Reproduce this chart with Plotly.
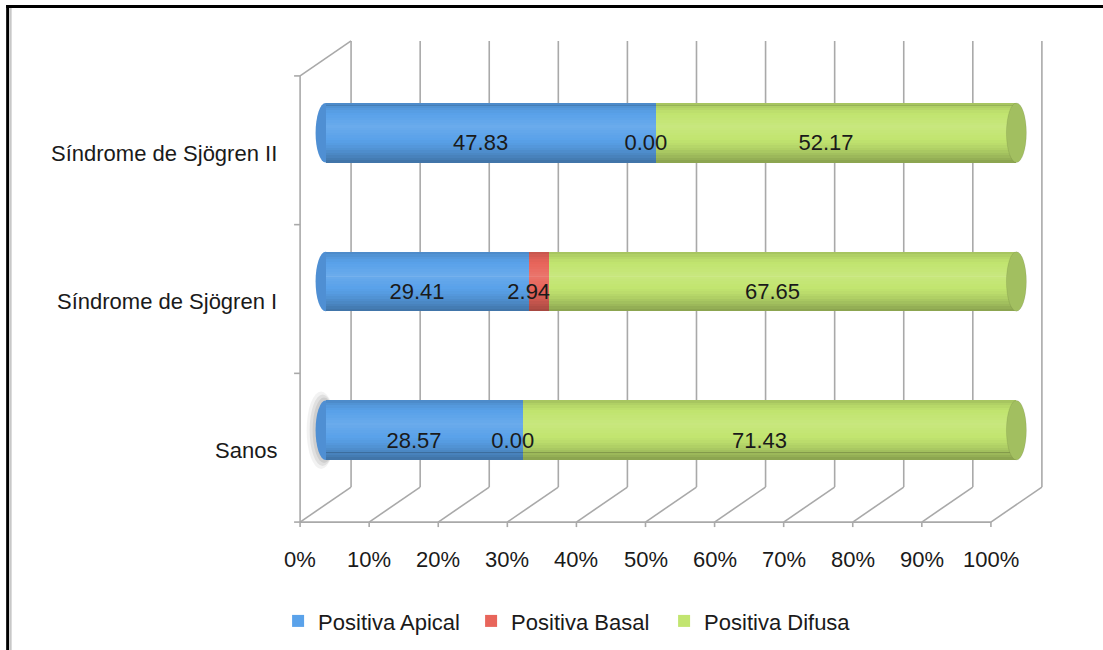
import plotly.graph_objects as go

# ---------------- data ----------------
categories = ["Sanos", "Síndrome de Sjögren I", "Síndrome de Sjögren II"]
series_names = ["Positiva Apical", "Positiva Basal", "Positiva Difusa"]
apical = [28.57, 29.41, 47.83]
basal = [0.00, 2.94, 0.00]
difusa = [71.43, 67.65, 52.17]
x_ticks = [0, 10, 20, 30, 40, 50, 60, 70, 80, 90, 100]
x_tick_labels = ["0%", "10%", "20%", "30%", "40%", "50%", "60%", "70%", "80%", "90%", "100%"]

series_values = [apical, basal, difusa]
colors = ["#5aa2ea", "#e8655b", "#c2e570"]
cap_colors = ["#4f8fd3", "#d0564d", "#a2bf60"]

# ---------------- geometry (pixel layout of the oblique 3D frame) ----------------
W_FIG, H_FIG = 1103, 650
PX_X0, PXU = 300.0, 6.91      # front-plane 0% pixel, pixels per percent
PY0, PYU = 522.0, 148.67      # front floor pixel, pixels per category slot
DX = 51 / PXU                 # depth offset (x units)
DY = 35 / PYU                 # depth offset (y units)
XR = [-4.5, 110]
YR = [-0.45, 3.45]
ml = PX_X0 + XR[0] * PXU
pw = (XR[1] - XR[0]) * PXU
mr = W_FIG - ml - pw
mt = PY0 - YR[1] * PYU
ph = (YR[1] - YR[0]) * PYU
mb = H_FIG - mt - ph

BAR_W = 0.40
n = len(categories)
ycent = [i + 0.5 for i in range(n)]          # front-plane centres
ybar = [c + DY / 2 for c in ycent]           # bars sit mid-depth
LBL_F = 0.3                                  # depth of value labels
LBL_DY = -5 / PYU                            # small baseline nudge for value labels

FONT = "Liberation Sans, Arial, Helvetica, sans-serif"
FS = 22
TXT = "#1a1a1a"
GRID = "#a9a9a9"

fig = go.Figure()

# ---------------- stacked bars ----------------
cum = [0.0] * n
lbl_x, lbl_y, lbl_t = [], [], []
for s, vals in enumerate(series_values):
    fig.add_trace(go.Bar(
        orientation="h", y=ybar, x=vals,
        base=[cum[i] + DX / 2 for i in range(n)],
        width=BAR_W, name=series_names[s],
        marker=dict(color=colors[s], line=dict(width=0)),
        hovertemplate="%{x:.2f}<extra>" + series_names[s] + "</extra>",
    ))
    for i in range(n):
        lbl_x.append(cum[i] + vals[i] / 2 + LBL_F * DX)
        lbl_y.append(ycent[i] + LBL_F * DY + LBL_DY)
        lbl_t.append(f"{vals[i]:.2f}")
    cum = [cum[i] + vals[i] for i in range(n)]
totals = cum[:]

# cylinder shading: thin bands with smoothly varying tint (bottom -> top)
NB = 24
for k in range(NB):
    f0, f1 = k / NB, (k + 1) / NB
    fm = (f0 + f1) / 2
    if fm < 0.40:
        col = f"rgba(0,0,0,{0.30 * (1 - fm / 0.40) ** 1.4:.3f})"
    elif fm < 0.80:
        t = (fm - 0.40) / 0.40
        col = f"rgba(255,255,255,{0.10 * (1 - abs(2 * t - 1)):.3f})"
    else:
        col = f"rgba(0,0,0,{0.16 * ((fm - 0.80) / 0.20) ** 1.5:.3f})"
    fig.add_trace(go.Bar(
        orientation="h", y=ybar, x=totals, base=[DX / 2] * n,
        width=(f1 - f0) * BAR_W * 1.02, offset=-BAR_W / 2 + f0 * BAR_W,
        marker=dict(color=col, line=dict(width=0)),
        showlegend=False, hoverinfo="skip",
    ))

# value labels
fig.add_trace(go.Scatter(
    x=lbl_x, y=lbl_y, text=lbl_t, mode="text",
    textfont=dict(family=FONT, size=FS, color=TXT),
    showlegend=False, hoverinfo="skip", cliponaxis=False,
))

# ---------------- frame shapes ----------------
shapes = []
def seg(x0, y0, x1, y1, layer="below", color=GRID, width=1.6):
    shapes.append(dict(type="line", xref="x", yref="y", x0=x0, y0=y0, x1=x1, y1=y1,
                       layer=layer, line=dict(color=color, width=width)))

for v in x_ticks:
    seg(v + DX, DY, v + DX, n + DY)          # back wall gridline
    seg(v, 0, v + DX, DY)                     # floor diagonal
    seg(v, 0, v, -5 / PYU)                    # front tick
seg(x_ticks[0], 0, x_ticks[-1], 0)            # front floor edge
seg(0, 0, 0, n)                               # left wall front edge
seg(0, n, DX, n + DY)                         # left wall top
for k in range(n + 1):
    seg(0, k, -6 / PXU, k)                    # category ticks

CAPW = 10 / PXU
# soft shadow behind the first bar's left end
for grow, a in [(9, 0.05), (6, 0.07), (3, 0.08)]:
    shapes.append(dict(type="circle", xref="x", yref="y", layer="below",
                       x0=DX / 2 - CAPW - grow / PXU, x1=DX / 2 + CAPW,
                       y0=ybar[0] - BAR_W / 2 - grow / PYU, y1=ybar[0] + BAR_W / 2 + grow / PYU,
                       fillcolor=f"rgba(0,0,0,{a})", line=dict(width=0)))

for i in range(n):
    first = next(s for s in range(3) if series_values[s][i] > 0)
    last = max(s for s in range(3) if series_values[s][i] > 0)
    shapes.append(dict(type="circle", xref="x", yref="y", layer="below",
                       x0=DX / 2 - CAPW, x1=DX / 2 + CAPW,
                       y0=ybar[i] - BAR_W / 2, y1=ybar[i] + BAR_W / 2,
                       fillcolor=cap_colors[first], line=dict(width=0)))
    xe = totals[i] + DX / 2
    shapes.append(dict(type="circle", xref="x", yref="y", layer="above",
                       x0=xe - CAPW, x1=xe + CAPW,
                       y0=ybar[i] - BAR_W / 2, y1=ybar[i] + BAR_W / 2,
                       fillcolor=cap_colors[last], line=dict(color="rgba(0,0,0,0.08)", width=1)))

# page border (black frame on top/left with a grey inner edge)
def px2paper_x(px):
    return (px - ml) / pw
def py2paper_y(py):
    return (mt + ph - py) / ph
shapes.append(dict(type="line", xref="paper", yref="paper",
                   x0=px2paper_x(6), x1=px2paper_x(W_FIG + 5), y0=py2paper_y(6.5), y1=py2paper_y(6.5),
                   line=dict(color="black", width=3), layer="above"))
shapes.append(dict(type="line", xref="paper", yref="paper",
                   x0=px2paper_x(7.5), x1=px2paper_x(7.5), y0=py2paper_y(5), y1=py2paper_y(H_FIG + 5),
                   line=dict(color="black", width=3), layer="above"))
shapes.append(dict(type="line", xref="paper", yref="paper",
                   x0=px2paper_x(10.5), x1=px2paper_x(10.5), y0=py2paper_y(8), y1=py2paper_y(H_FIG + 5),
                   line=dict(color="#c8c8c8", width=2), layer="above"))

# ---------------- annotations (axis labels) ----------------
annotations = []
for v, t in zip(x_ticks, x_tick_labels):
    annotations.append(dict(x=v, y=-37 / PYU, xref="x", yref="y", text=t, showarrow=False,
                            xanchor="center", yanchor="middle",
                            font=dict(family=FONT, size=FS, color=TXT)))
for c, name in zip(ycent, categories):
    annotations.append(dict(x=-21 / PXU, y=c - 0.02, xref="x", yref="y", text=name, showarrow=False,
                            xanchor="right", yanchor="middle",
                            font=dict(family=FONT, size=FS, color=TXT)))

fig.update_layout(
    width=W_FIG, height=H_FIG,
    margin=dict(l=ml, r=mr, t=mt, b=mb, autoexpand=False),
    paper_bgcolor="white", plot_bgcolor="white",
    barmode="overlay", bargap=0,
    xaxis=dict(range=XR, visible=False, fixedrange=True),
    yaxis=dict(range=YR, visible=False, fixedrange=True),
    shapes=shapes, annotations=annotations,
    showlegend=True,
    legend=dict(orientation="h", x=px2paper_x(278), xanchor="left",
                y=py2paper_y(621), yanchor="middle",
                entrywidth=148, entrywidthmode="pixels",
                font=dict(family=FONT, size=FS, color=TXT),
                bgcolor="rgba(0,0,0,0)", itemclick=False, itemdoubleclick=False),
    font=dict(family=FONT, color=TXT),
)

fig.write_html("out.html")
